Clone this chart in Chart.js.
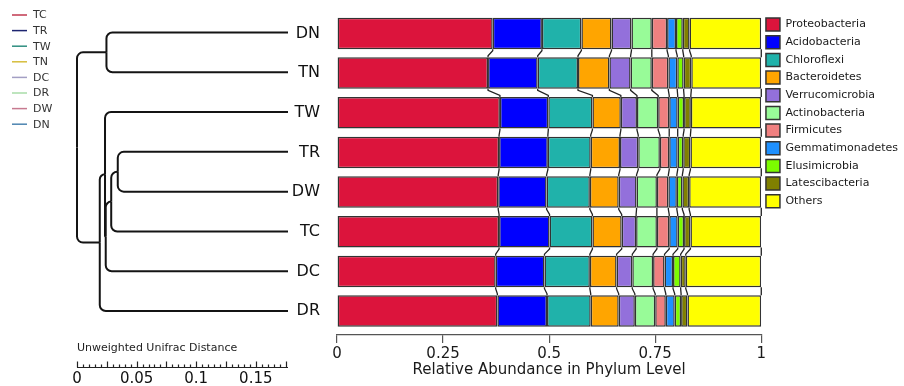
<!DOCTYPE html>
<html>
<head>
<meta charset="utf-8">
<script src="https://cdn.jsdelivr.net/npm/chart.js@4/dist/chart.umd.min.js"></script>
<style>
  html, body { margin: 0; padding: 0; background: #fff; }
  #wrap { position: relative; width: 904px; height: 386px; overflow: hidden; }
  #bars, #tree { position: absolute; left: 0; top: 0; }
</style>
</head>
<body>
<div id="wrap">
  <canvas id="bars" width="904" height="386"></canvas>
  <canvas id="tree" width="295" height="386"></canvas>
</div>
<script>
// Samples, top to bottom
const samples = ['DN', 'TN', 'TW', 'TR', 'DW', 'TC', 'DC', 'DR'];

// Phyla and their colours
const phyla = ['Proteobacteria', 'Acidobacteria', 'Chloroflexi', 'Bacteroidetes', 'Verrucomicrobia',
  'Actinobacteria', 'Firmicutes', 'Gemmatimonadetes', 'Elusimicrobia', 'Latescibacteria', 'Others'];
const phylumColors = ['#DC143C', '#0000FF', '#20B2AA', '#FFA500', '#9370DB',
  '#98FB98', '#F08080', '#1E90FF', '#7CFC00', '#808000', '#FFFF00'];

// Relative abundance per sample (same order as samples)
const proteobacteria   = [0.367, 0.356, 0.384, 0.382, 0.380, 0.382, 0.374, 0.378];
const acidobacteria    = [0.116, 0.117, 0.114, 0.115, 0.114, 0.119, 0.115, 0.117];
const chloroflexi      = [0.093, 0.095, 0.104, 0.101, 0.102, 0.101, 0.107, 0.103];
const bacteroidetes    = [0.071, 0.074, 0.067, 0.069, 0.068, 0.069, 0.063, 0.066];
const verrucomicrobia  = [0.047, 0.050, 0.038, 0.043, 0.042, 0.034, 0.037, 0.038];
const actinobacteria   = [0.048, 0.050, 0.050, 0.051, 0.048, 0.049, 0.049, 0.048];
const firmicutes       = [0.036, 0.039, 0.026, 0.022, 0.027, 0.029, 0.027, 0.025];
const gemmatimonadetes = [0.021, 0.021, 0.020, 0.020, 0.020, 0.020, 0.020, 0.021];
const elusimicrobia    = [0.016, 0.015, 0.015, 0.013, 0.013, 0.015, 0.018, 0.015];
const latescibacteria  = [0.016, 0.018, 0.016, 0.017, 0.016, 0.015, 0.012, 0.015];
const others           = [0.169, 0.165, 0.166, 0.167, 0.170, 0.167, 0.178, 0.174];

const abundance = [proteobacteria, acidobacteria, chloroflexi, bacteroidetes, verrucomicrobia,
  actinobacteria, firmicutes, gemmatimonadetes, elusimicrobia, latescibacteria, others];

// Bar axis ticks
const abundanceTicks = [0, 0.25, 0.5, 0.75, 1];

// Clustering tree (distance measured from the root)
const treeNodeNames   = ['root', 'A',  'B',  'B1', 'B2', 'B3', 'B4'];
const treeLeftChild   = ['A',    'DN', 'B1', 'TW', 'B3', 'B4', 'TR'];
const treeRightChild  = ['B',    'TN', 'DR', 'B2', 'DC', 'TC', 'DW'];
const treeNodeDist    = [0,      0.0247, 0.0191, 0.0235, 0.0241, 0.0287, 0.0342];
const leafDist = 0.177;

// Distance ruler
const rulerLabels = [0, 0.05, 0.1, 0.15];
const rulerMinorStep = 0.005;
const rulerMajorStep = 0.025;

// Sample legend
const sampleLegend = ['TC', 'TR', 'TW', 'TN', 'DC', 'DR', 'DW', 'DN'];
const sampleLegendColors = ['#c0394f', '#1d2570', '#2e8e80', '#d6bd3c', '#a39fc4', '#a8dca8', '#c77a90', '#4c84b0'];

const FONT = '"DejaVu Sans", Verdana, sans-serif';
const Y_MIN = -0.6, Y_MAX = 7.603;

// Cumulative boundaries for floating bars
const bounds = samples.map((_, i) => {
  const b = [0];
  abundance.forEach(series => b.push(b[b.length - 1] + series[i]));
  return b;
});

// Lines linking matching boundaries of neighbouring bars
const linkPlugin = {
  id: 'links',
  afterDatasetsDraw(chart) {
    const xs = chart.scales.x, ys = chart.scales.y;
    const el = chart.getDatasetMeta(0).data[0];
    const half = el.height / 2;
    const ctx = chart.ctx;
    ctx.save();
    ctx.strokeStyle = '#222';
    ctx.lineWidth = 1.3;
    for (let i = 0; i < samples.length - 1; i++) {
      const yb = ys.getPixelForValue(i) + half;
      const yt = ys.getPixelForValue(i + 1) - half;
      for (let k = 1; k < bounds[i].length; k++) {
        const x1 = xs.getPixelForValue(Math.min(1, bounds[i][k]));
        const x2 = xs.getPixelForValue(Math.min(1, bounds[i + 1][k]));
        ctx.beginPath();
        ctx.moveTo(x1, yb);
        ctx.lineTo(x1, yb + 1.5);
        ctx.lineTo(x2, yt - 1.5);
        ctx.lineTo(x2, yt);
        ctx.stroke();
      }
    }
    ctx.restore();
  }
};

new Chart(document.getElementById('bars'), {
  type: 'bar',
  data: {
    datasets: phyla.map((name, k) => ({
      label: name,
      data: samples.map((s, i) => ({ x: [bounds[i][k], Math.min(1, bounds[i][k + 1])], y: i })),
      backgroundColor: phylumColors[k],
      borderColor: '#333',
      borderWidth: 1.5,
      borderSkipped: false,
      grouped: false,
      barPercentage: 1,
      categoryPercentage: 0.795
    }))
  },
  options: {
    indexAxis: 'y',
    responsive: false,
    animation: false,
    devicePixelRatio: 1,
    layout: { padding: { top: 8.6, left: 0, right: -4, bottom: 0 } },
    scales: {
      x: {
        type: 'linear', min: 0, max: 1,
        afterBuildTicks: s => { s.ticks = abundanceTicks.map(v => ({ value: v })); },
        ticks: { callback: v => String(v), font: { family: FONT, size: 15, lineHeight: 1 }, color: '#1a1a1a', padding: 4 },
        grid: { drawOnChartArea: false, tickLength: 8, color: '#555', lineWidth: 1.2 },
        border: { color: '#555', width: 1.2 },
        title: { display: true, text: 'Relative Abundance in Phylum Level',
                 font: { family: FONT, size: 15, lineHeight: 1.2 }, color: '#1a1a1a', padding: { top: 0, bottom: 7 } },
        afterFit: s => { s.height = 51; }
      },
      y: {
        type: 'linear', reverse: true, min: Y_MIN, max: Y_MAX, offset: false,
        afterBuildTicks: s => { s.ticks = samples.map((_, i) => ({ value: i })); },
        ticks: { callback: v => samples[v], font: { family: FONT, size: 16 }, color: '#111', padding: 0 },
        grid: { display: true, drawOnChartArea: false, drawTicks: true, tickLength: 17, color: 'rgba(0,0,0,0)', offset: false },
        border: { display: false },
        afterFit: s => { s.width = 337; }
      }
    },
    plugins: {
      legend: {
        position: 'right', align: 'start',
        title: { display: true, text: '', font: { size: 4 }, padding: 0 },
        labels: { boxWidth: 14, boxHeight: 13, font: { family: FONT, size: 11 }, color: '#1a1a1a', padding: 4.67 }
      },
      tooltip: { enabled: false }
    }
  },
  plugins: [linkPlugin]
});

// Dendrogram, distance ruler and sample legend
const treePlugin = {
  id: 'tree',
  afterDraw(chart) {
    const ctx = chart.ctx, xs = chart.scales.x, ys = chart.scales.y;
    const nodes = {};
    samples.forEach((s, i) => { nodes[s] = { d: leafDist, y: i }; });
    // resolve internal nodes from the leaves upward
    const resolve = name => {
      if (nodes[name]) return nodes[name];
      const j = treeNodeNames.indexOf(name);
      const l = resolve(treeLeftChild[j]), r = resolve(treeRightChild[j]);
      nodes[name] = { d: treeNodeDist[j], y: (l.y + r.y) / 2 };
      return nodes[name];
    };
    resolve('root');

    ctx.save();
    ctx.strokeStyle = '#141414';
    ctx.lineWidth = 2;
    treeNodeNames.forEach((name, j) => {
      const p = nodes[name];
      const px = xs.getPixelForValue(p.d), py = ys.getPixelForValue(p.y);
      [treeLeftChild[j], treeRightChild[j]].forEach(cn => {
        const c = nodes[cn];
        const cx = xs.getPixelForValue(c.d), cy = ys.getPixelForValue(c.y);
        const r = Math.min(6, Math.abs(cy - py), cx - px);
        ctx.beginPath();
        ctx.moveTo(px, py);
        if (r > 0.5) ctx.arcTo(px, cy, cx, cy, r); else ctx.lineTo(px, cy);
        ctx.lineTo(cx, cy);
        ctx.stroke();
      });
    });

    // ruler
    const baseY = 367.5;
    const x0 = xs.getPixelForValue(0), x1 = xs.getPixelForValue(leafDist);
    ctx.strokeStyle = '#222';
    ctx.lineWidth = 1.2;
    ctx.beginPath();
    ctx.moveTo(x0, baseY); ctx.lineTo(x1, baseY);
    const n = Math.floor(leafDist / rulerMinorStep + 1e-9);
    for (let t = 0; t <= n; t++) {
      const v = t * rulerMinorStep;
      const major = Math.abs(v / rulerMajorStep - Math.round(v / rulerMajorStep)) < 1e-6;
      const px = Math.round(xs.getPixelForValue(v)) + 0.5;
      ctx.moveTo(px, baseY);
      ctx.lineTo(px, baseY - (major ? 6 : 3));
    }
    ctx.stroke();

    ctx.fillStyle = '#111';
    ctx.font = '15px ' + FONT;
    ctx.textAlign = 'center';
    ctx.textBaseline = 'middle';
    rulerLabels.forEach(v => ctx.fillText(String(v), xs.getPixelForValue(v), 379));

    ctx.fillStyle = '#222';
    ctx.font = '11px ' + FONT;
    ctx.textAlign = 'left';
    ctx.fillText('Unweighted Unifrac Distance', x0, 348);

    // sample legend
    ctx.font = '11px ' + FONT;
    sampleLegend.forEach((s, i) => {
      const y = 15 + i * 15.6;
      ctx.strokeStyle = sampleLegendColors[i];
      ctx.lineWidth = 1.5;
      ctx.beginPath();
      ctx.moveTo(12, y); ctx.lineTo(27, y);
      ctx.stroke();
      ctx.fillStyle = '#333';
      ctx.fillText(s, 33, y + 0.5);
    });
    ctx.restore();
  }
};

new Chart(document.getElementById('tree'), {
  type: 'scatter',
  data: { datasets: [] },
  options: {
    responsive: false,
    animation: false,
    devicePixelRatio: 1,
    layout: { padding: { left: 77, right: 7, top: 8.6, bottom: 51 } },
    scales: {
      x: { type: 'linear', min: 0, max: leafDist, display: false },
      y: { type: 'linear', min: Y_MIN, max: Y_MAX, reverse: true, display: false }
    },
    plugins: { legend: { display: false }, tooltip: { enabled: false } }
  },
  plugins: [treePlugin]
});
</script>
</body>
</html>
